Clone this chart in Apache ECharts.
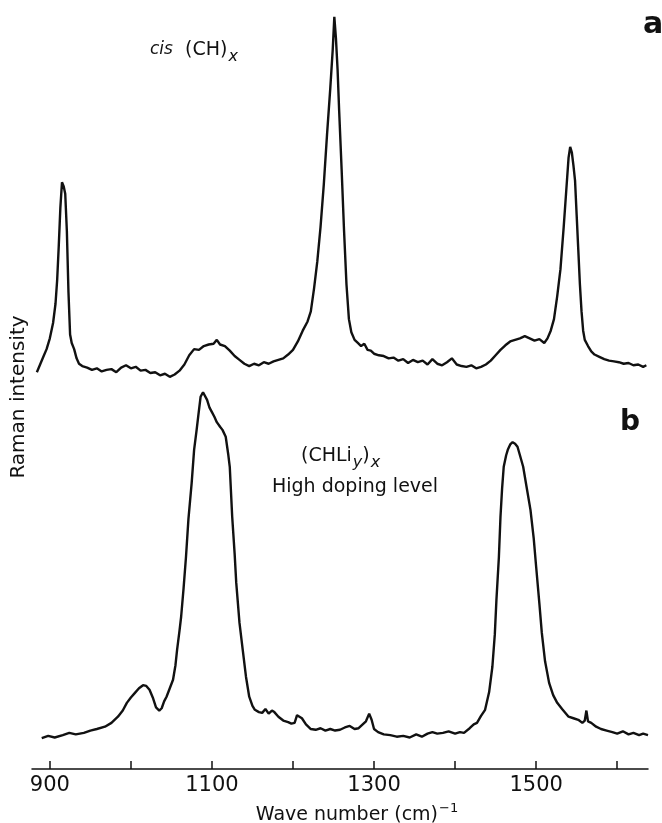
<!DOCTYPE html>
<html>
<head>
<meta charset="utf-8">
<script src="https://cdn.jsdelivr.net/npm/echarts@6/dist/echarts.min.js"></script>
<style>
  html, body { margin: 0; padding: 0; background: #fff; }
  #raman-chart { width: 662px; height: 823px; }
</style>
</head>
<body>
<div id="raman-chart"></div>
<script>
// spectrum a: cis (CH)x  (intensity in plot units, curve offset upward)
var waveA = [884, 888, 892, 896, 900, 904, 907, 909, 911, 913, 915, 917, 919, 921, 923, 925, 927, 930, 933, 936,
    940, 946, 952, 958, 964, 970, 976, 982, 988, 994, 1000, 1006, 1012, 1018, 1024, 1030, 1036, 1042, 1048, 1054,
    1060, 1066, 1072, 1078, 1084, 1090, 1096, 1102, 1106, 1110, 1116, 1122, 1128, 1134, 1140, 1146, 1152, 1158, 1164, 1170,
    1176, 1182, 1188, 1194, 1200, 1206, 1212, 1218, 1222, 1226, 1230, 1234, 1238, 1242, 1246, 1249, 1251, 1253, 1255, 1257,
    1260, 1263, 1266, 1269, 1272, 1276, 1280, 1284, 1288, 1292, 1296, 1300, 1306, 1312, 1318, 1324, 1330, 1336, 1342, 1348,
    1354, 1360, 1366, 1372, 1378, 1384, 1390, 1396, 1402, 1408, 1414, 1420, 1426, 1432, 1438, 1444, 1450, 1456, 1462, 1468,
    1474, 1480, 1486, 1492, 1498, 1504, 1510, 1514, 1518, 1522, 1526, 1530, 1534, 1537, 1540, 1542, 1544, 1546, 1548, 1550,
    1552, 1554, 1556, 1558, 1560, 1564, 1568, 1572, 1578, 1584, 1590, 1596, 1602, 1608, 1614, 1620, 1626, 1632, 1636];
var ramanA = [51.6, 52.6, 53.6, 54.6, 56.0, 58.0, 60.5, 63.5, 68.0, 73.0, 76.3, 75.8, 74.8, 70.0, 62.0, 56.5, 55.4, 54.6, 53.4, 52.7,
    52.4, 52.2, 51.9, 52.1, 51.7, 51.9, 52.0, 51.6, 52.2, 52.5, 52.1, 52.3, 51.8, 51.9, 51.5, 51.6, 51.2, 51.4, 51.0, 51.3,
    51.8, 52.6, 53.8, 54.6, 54.5, 55.0, 55.2, 55.3, 55.8, 55.2, 55.0, 54.4, 53.7, 53.2, 52.7, 52.4, 52.7, 52.5, 52.9, 52.7,
    53.0, 53.2, 53.4, 53.9, 54.5, 55.6, 57.0, 58.2, 59.5, 62.5, 66.0, 70.5, 76.0, 82.5, 88.5, 93.5, 97.8, 95.0, 91.0, 85.5,
    78.0, 70.0, 63.0, 58.5, 56.8, 55.8, 55.4, 55.0, 55.3, 54.5, 54.4, 54.0, 53.8, 53.7, 53.4, 53.5, 53.1, 53.3, 52.8, 53.2,
    52.9, 53.1, 52.6, 53.3, 52.7, 52.5, 52.9, 53.4, 52.6, 52.4, 52.3, 52.5, 52.1, 52.3, 52.6, 53.1, 53.8, 54.5, 55.1, 55.6,
    55.8, 56.0, 56.3, 56.0, 55.7, 55.9, 55.4, 56.0, 57.0, 58.5, 61.5, 65.0, 70.5, 75.0, 79.5, 80.9, 80.2, 78.5, 76.5, 72.0,
    67.5, 63.0, 59.5, 57.0, 55.8, 55.0, 54.3, 53.9, 53.6, 53.3, 53.1, 53.0, 52.9, 52.7, 52.8, 52.5, 52.6, 52.3, 52.5];

// spectrum b: (CHLiy)x, high doping level
var waveB = [890, 898, 906, 916, 924, 932, 942, 950, 958, 968, 976, 984, 990, 995, 1000, 1005, 1010, 1015, 1019, 1023,
    1027, 1031, 1035, 1038, 1041, 1044, 1048, 1052, 1055, 1057, 1060, 1062, 1065, 1068, 1071, 1075, 1078, 1081, 1083, 1086,
    1089, 1091, 1094, 1097, 1100, 1103, 1106, 1110, 1113, 1117, 1120, 1122, 1125, 1128, 1130, 1134, 1138, 1142, 1146, 1150,
    1153, 1158, 1162, 1166, 1170, 1174, 1177, 1182, 1188, 1194, 1198, 1202, 1205, 1211, 1216, 1222, 1228, 1234, 1240, 1246,
    1252, 1258, 1264, 1270, 1276, 1281, 1286, 1290, 1294, 1297, 1300, 1305, 1312, 1320, 1328, 1336, 1344, 1352, 1359, 1366,
    1372, 1378, 1385, 1392, 1400, 1406, 1411, 1418, 1423, 1427, 1432, 1437, 1442, 1446, 1449, 1451, 1454, 1456, 1458, 1460,
    1463, 1465, 1468, 1471, 1474, 1477, 1480, 1484, 1488, 1493, 1497, 1500, 1504, 1507, 1511, 1516, 1521, 1526, 1532, 1540,
    1546, 1552, 1557, 1560, 1562, 1564, 1568, 1574, 1580, 1587, 1594, 1600, 1607, 1614, 1620, 1627, 1632, 1638];
var ramanB = [4.0, 4.3, 4.1, 4.4, 4.7, 4.5, 4.7, 5.0, 5.2, 5.5, 6.0, 6.8, 7.6, 8.6, 9.3, 9.9, 10.5, 10.9, 10.8, 10.3,
    9.3, 8.0, 7.6, 7.9, 8.8, 9.4, 10.5, 11.6, 13.5, 15.5, 18.0, 19.8, 23.5, 27.6, 32.5, 37.2, 41.5, 44.0, 45.8, 48.4,
    49.0, 48.8, 48.0, 47.0, 46.4, 45.8, 45.1, 44.5, 44.1, 43.2, 41.0, 39.3, 32.8, 28.0, 24.2, 19.0, 15.5, 12.0, 9.4, 8.2,
    7.7, 7.4, 7.3, 7.8, 7.2, 7.6, 7.4, 6.8, 6.3, 6.1, 5.9, 6.0, 7.0, 6.6, 5.8, 5.2, 5.1, 5.3, 5.0, 5.2,
    5.0, 5.1, 5.4, 5.6, 5.2, 5.3, 5.8, 6.2, 7.2, 6.4, 5.2, 4.8, 4.5, 4.4, 4.2, 4.3, 4.1, 4.5, 4.2, 4.6,
    4.8, 4.6, 4.7, 4.9, 4.6, 4.8, 4.7, 5.3, 5.8, 6.0, 6.9, 7.7, 10.0, 13.3, 17.5, 22.0, 27.5, 32.8, 36.5, 39.3,
    40.8, 41.5, 42.2, 42.5, 42.3, 41.9, 40.8, 39.3, 36.8, 33.7, 30.0, 26.3, 21.5, 17.7, 14.0, 11.2, 9.6, 8.6, 7.8, 6.8,
    6.6, 6.4, 6.0, 6.3, 7.6, 6.2, 6.0, 5.5, 5.2, 5.0, 4.8, 4.6, 4.9, 4.5, 4.7, 4.4, 4.6, 4.4];

var majorTicks = [900, 1000, 1100, 1200, 1300, 1400, 1500, 1600];
var tickLabels = [900, 1100, 1300, 1500];

function pairs(xs, ys) {
    return xs.map(function (x, i) { return [x, ys[i]]; });
}

var font = '"DejaVu Sans", sans-serif';
var chart = echarts.init(document.getElementById('raman-chart'));

var option = {
    animation: false,
    backgroundColor: '#fff',
    grid: { left: 32, right: 14, top: 0, bottom: 54 },
    xAxis: {
        type: 'value',
        min: 878,
        max: 1638,
        axisLine: { lineStyle: { color: '#111', width: 1.5 } },
        axisTick: { customValues: majorTicks, inside: true, length: 8, lineStyle: { color: '#111', width: 1.5 } },
        axisLabel: {
            customValues: tickLabels, color: '#111', fontFamily: font, fontSize: 21, margin: 6,
            formatter: function (v) { return String(v); }
        },
        splitLine: { show: false }
    },
    yAxis: {
        type: 'value',
        min: 0,
        max: 100,
        show: false
    },
    series: [
        {
            name: 'a', type: 'line', data: pairs(waveA, ramanA), showSymbol: false,
            lineStyle: { color: '#111', width: 2.4 }
        },
        {
            name: 'b', type: 'line', data: pairs(waveB, ramanB), showSymbol: false,
            lineStyle: { color: '#111', width: 2.4 }
        }
    ],
    graphic: [
        {
            type: 'text', x: 357, y: 815,
            style: {
                text: 'Wave number (cm){sup|−1}', fontFamily: font, fontSize: 19, fill: '#111',
                align: 'center', verticalAlign: 'middle',
                rich: { sup: { fontSize: 13, fontFamily: font, verticalAlign: 'top', padding: [0, 0, 12, 1] } }
            }
        },
        {
            type: 'text', x: 19, y: 397, rotation: Math.PI / 2,
            style: {
                text: 'Raman intensity', fontFamily: font, fontSize: 20, fill: '#111',
                align: 'center', verticalAlign: 'middle'
            }
        },
        {
            type: 'text', x: 150, y: 50,
            style: {
                text: '{it|cis}  (CH){sub|x}', fontFamily: font, fontSize: 19, fill: '#111',
                verticalAlign: 'middle',
                rich: {
                    it: { fontStyle: 'italic', fontSize: 17, fontFamily: font },
                    sub: { fontStyle: 'italic', fontSize: 16, fontFamily: font, padding: [14, 0, 0, 1] }
                }
            }
        },
        {
            type: 'text', x: 301, y: 456,
            style: {
                text: '(CHLi{sub|y}){sub|x}', fontFamily: font, fontSize: 19, fill: '#111',
                verticalAlign: 'middle',
                rich: { sub: { fontStyle: 'italic', fontSize: 16, fontFamily: font, padding: [14, 0, 0, 1] } }
            }
        },
        {
            type: 'text', x: 355, y: 487,
            style: {
                text: 'High doping level', fontFamily: font, fontSize: 19, fill: '#111',
                align: 'center', verticalAlign: 'middle'
            }
        },
        {
            type: 'text', x: 653, y: 25,
            style: { text: 'a', fontFamily: font, fontSize: 30, fontWeight: 'bold', fill: '#111', align: 'center', verticalAlign: 'middle' }
        },
        {
            type: 'text', x: 630, y: 423,
            style: { text: 'b', fontFamily: font, fontSize: 28, fontWeight: 'bold', fill: '#111', align: 'center', verticalAlign: 'middle' }
        }
    ]
};
chart.setOption(option);

window.onresize = chart.resize;
</script>
</body>
</html>
